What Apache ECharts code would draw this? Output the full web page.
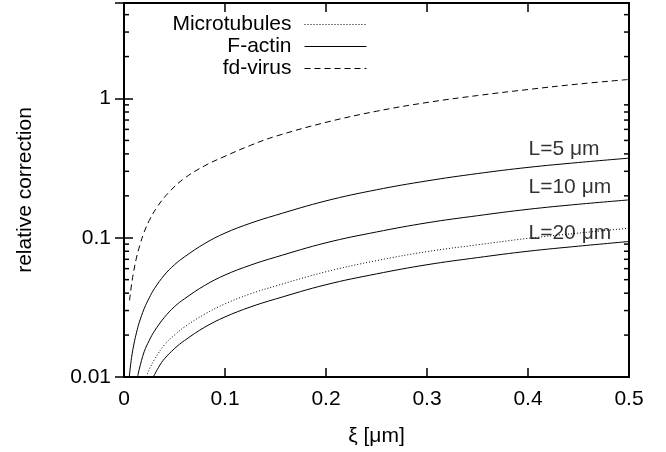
<!DOCTYPE html>
<html>
<head>
<meta charset="utf-8">
<script src="https://cdn.jsdelivr.net/npm/echarts@6/dist/echarts.min.js"></script>
<style>html,body{margin:0;padding:0;background:#fff}#c{width:666px;height:452px}</style>
</head>
<body>
<div id="c"></div>
<script>
// ---- data ----
const xTickValues = [0, 0.1, 0.2, 0.3, 0.4, 0.5];
const yTickValues = [0.01, 0.1, 1];
const yTickLabels = ['0.01', '0.1', '1'];
const minorMultipliers = [2, 3, 4, 5, 6, 7, 8, 9];
const legendNames = ['Microtubules', 'F-actin', 'fd-virus'];

// F-actin, L = 5 µm
const fActinL5 = [[0.0052,0.0100],[0.0075,0.0138],[0.01,0.0175],[0.0125,0.021],[0.015,0.0245],[0.02,0.031],[0.025,0.037],[0.03,0.043],[0.04,0.054],[0.05,0.064],[0.06,0.073],[0.08,0.091],[0.1,0.108],[0.125,0.127],[0.15,0.145],[0.2,0.184],[0.25,0.221],[0.3,0.256],[0.35,0.289],[0.4,0.320],[0.45,0.347],[0.5,0.373]];
// F-actin, L = 10 µm
const fActinL10 = [[0.0135,0.0100],[0.015,0.0113],[0.02,0.0152],[0.025,0.0183],[0.03,0.0213],[0.04,0.0268],[0.05,0.032],[0.06,0.0365],[0.08,0.0455],[0.1,0.054],[0.125,0.0635],[0.15,0.0725],[0.2,0.092],[0.25,0.110],[0.3,0.128],[0.35,0.144],[0.4,0.160],[0.45,0.174],[0.5,0.187]];
// F-actin, L = 20 µm
const fActinL20 = [[0.029,0.0100],[0.035,0.0120],[0.04,0.0135],[0.05,0.016],[0.06,0.0183],[0.08,0.0228],[0.1,0.027],[0.125,0.0318],[0.15,0.0363],[0.2,0.046],[0.25,0.055],[0.3,0.064],[0.35,0.072],[0.4,0.080],[0.45,0.087],[0.5,0.094]];
// Microtubules
const microtubules = [[0.022,0.0100],[0.025,0.0113],[0.03,0.0133],[0.04,0.017],[0.05,0.020],[0.06,0.0229],[0.08,0.0283],[0.1,0.0335],[0.125,0.0395],[0.15,0.045],[0.2,0.057],[0.25,0.0685],[0.3,0.0795],[0.35,0.089],[0.4,0.099],[0.45,0.108],[0.5,0.117]];
// fd-virus
const fdVirus = [[0.0055,0.0355],[0.008,0.049],[0.012,0.070],[0.016,0.090],[0.02,0.110],[0.025,0.133],[0.033,0.167],[0.045,0.214],[0.06,0.268],[0.08,0.329],[0.1,0.385],[0.125,0.460],[0.15,0.535],[0.2,0.674],[0.25,0.810],[0.3,0.936],[0.35,1.05],[0.4,1.16],[0.45,1.27],[0.5,1.37]];

// curve annotations
const annotationText = ['L=5 \u03bcm', 'L=10 \u03bcm', 'L=20 \u03bcm'];
const annotationX = [0.4, 0.4, 0.4];
const annotationY = [0.429, 0.232, 0.108];

// ---- chart ----
const FONT = '"Liberation Sans", Arial, Helvetica, sans-serif';
const FS = 21;
const X_MIN = 0, X_MAX = 0.5, Y_MIN = 0.01, Y_MAX = 4.85;

const minorTickValues = [];
yTickValues.forEach(d => minorMultipliers.forEach(m => { if (d * m < Y_MAX) minorTickValues.push(d * m); }));

const chart = echarts.init(document.getElementById('c'), null, {renderer: 'canvas'});

function lineSeries(name, data, type) {
  return {
    name: name, type: 'line', data: data, symbol: 'none', showSymbol: false,
    smooth: 0.4, silent: true,
    lineStyle: {color: '#000', width: 1, type: type}
  };
}

const axisText = {color: '#000', fontSize: FS, fontFamily: FONT};

const option = {
  animation: false,
  backgroundColor: '#fff',
  grid: {left: 124, right: 37, top: 3, bottom: 74, show: true, borderColor: '#000', borderWidth: 2, backgroundColor: 'transparent'},
  legend: legendNames.map((n, i) => ({
    data: [n], orient: 'vertical', align: 'right', right: 299, top: 14 + i * 22, padding: 0,
    itemWidth: 62, itemHeight: 14, selectedMode: false,
    itemStyle: {opacity: 0}, lineStyle: {width: 1},
    textStyle: {color: '#000', fontSize: FS, fontFamily: FONT, padding: [0, 8, 0, 0]}
  })),
  xAxis: [
    {type: 'value', min: X_MIN, max: X_MAX, interval: 0.1, position: 'bottom',
     axisLine: {show: false}, splitLine: {show: false},
     axisTick: {show: true, inside: true, length: 9, lineStyle: {color: '#000', width: 1.5}},
     axisLabel: Object.assign({margin: 12, formatter: v => String(+v.toFixed(1))}, axisText),
     name: '\u03be [\u03bcm]', nameLocation: 'middle', nameGap: 49, nameTextStyle: axisText},
    {type: 'value', min: X_MIN, max: X_MAX, interval: 0.1, position: 'top',
     axisLine: {show: false}, splitLine: {show: false},
     axisTick: {show: true, inside: true, length: 9, lineStyle: {color: '#000', width: 1.5}},
     axisLabel: {show: false}}
  ],
  yAxis: [
    {type: 'log', logBase: 10, min: Y_MIN, max: Y_MAX, position: 'left',
     axisLine: {show: false}, splitLine: {show: false}, minorTick: {show: false},
     axisTick: {show: true, inside: true, length: 9, lineStyle: {color: '#000', width: 1.5}},
     axisLabel: Object.assign({margin: 13, showMaxLabel: false, padding: [4, 0, 0, 0], formatter: v => {
       const i = yTickValues.findIndex(t => Math.abs(t - v) / t < 1e-6); return i >= 0 ? yTickLabels[i] : '';
     }}, axisText),
     name: 'relative correction', nameLocation: 'middle', nameGap: 88, nameRotate: 90, nameTextStyle: axisText},
    {type: 'log', logBase: 10, min: Y_MIN, max: Y_MAX, position: 'right',
     axisLine: {show: false}, splitLine: {show: false},
     axisTick: {show: true, inside: true, length: 9, lineStyle: {color: '#000', width: 1.5}},
     axisLabel: {show: false}}
  ],
  series: [
    lineSeries('Microtubules', microtubules, [1, 2]),
    lineSeries('F-actin', fActinL5, 'solid'),
    lineSeries('F-actin', fActinL10, 'solid'),
    lineSeries('F-actin', fActinL20, 'solid'),
    lineSeries('fd-virus', fdVirus, [6, 4]),
    {
      name: 'annotations', type: 'scatter', silent: true, symbolSize: 1,
      itemStyle: {color: 'rgba(0,0,0,0)'},
      data: annotationText.map((t, i) => ({value: [annotationX[i], annotationY[i]], name: t})),
      label: {show: true, position: 'right', distance: 0, formatter: p => p.name, color: '#000', fontSize: FS, fontFamily: FONT}
    },
    {
      name: 'minorTicks', type: 'custom', silent: true, clip: false,
      data: minorTickValues.map(v => [X_MIN, v]),
      renderItem: (params, api) => {
        const v = api.value(1);
        const pl = api.coord([X_MIN, v]);
        const pr = api.coord([X_MAX, v]);
        const st = {stroke: '#000', lineWidth: 1.5};
        return {type: 'group', children: [
          {type: 'line', shape: {x1: pl[0], y1: pl[1], x2: pl[0] + 5, y2: pl[1]}, style: st},
          {type: 'line', shape: {x1: pr[0] - 5, y1: pr[1], x2: pr[0], y2: pr[1]}, style: st}
        ]};
      }
    }
  ]
};
chart.setOption(option);
</script>
</body>
</html>
